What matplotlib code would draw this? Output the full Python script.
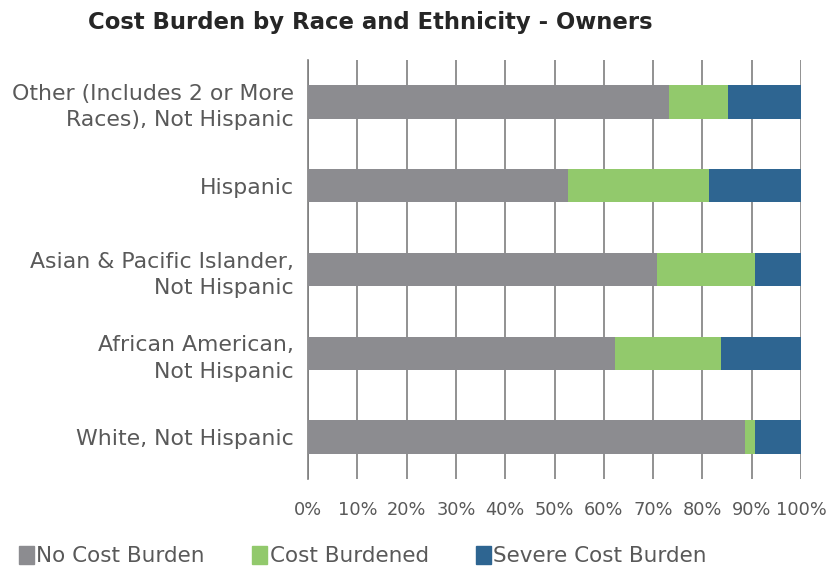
import numpy as np
import matplotlib.pyplot as plt
from matplotlib.patches import Patch

# Data (percent of owner households)
categories = [
    "White, Not Hispanic",
    "African American,\nNot Hispanic",
    "Asian & Pacific Islander,\nNot Hispanic",
    "Hispanic",
    "Other (Includes 2 or More\nRaces), Not Hispanic",
]
no_burden = [88.6, 62.3, 70.8, 52.7, 73.2]
cost_burdened = [2.1, 21.5, 19.9, 28.6, 12.0]
severe_burden = [9.3, 16.2, 9.3, 18.7, 14.8]
series_names = ["No Cost Burden", "Cost Burdened", "Severe Cost Burden"]
colors = ["#8C8C90", "#92C96C", "#2E6591"]
text_color = "#595959"

plt.rcParams['font.family'] = ['DejaVu Sans']

fig = plt.figure(figsize=(8.32, 5.69), dpi=100)
ax = fig.add_axes([308 / 832, 1 - 479 / 569, 493 / 832, 419 / 569])

y = np.arange(len(categories))
left = np.zeros(len(categories))
for vals, name, c in zip([no_burden, cost_burdened, severe_burden], series_names, colors):
    ax.barh(y, vals, left=left, height=0.4, color=c, label=name, zorder=3)
    left += np.array(vals)

ax.set_xlim(0, 100)
ax.set_ylim(-0.5, len(categories) - 0.5)
ax.set_yticks(y)
ax.set_yticklabels(categories, fontsize=15.8, color=text_color, linespacing=1.4)
ax.set_xticks(np.arange(0, 101, 10))
ax.set_xticklabels([f"{v}%" for v in range(0, 101, 10)], fontsize=12.8, color=text_color)
ax.tick_params(axis='y', length=0, pad=10)
ax.tick_params(axis='x', length=0, pad=16)
ax.grid(axis='x', color='#7F7F7F', linewidth=1.2, zorder=0)
for side in ['top', 'right', 'bottom']:
    ax.spines[side].set_visible(False)
ax.spines['left'].set_color('#7F7F7F')
ax.spines['left'].set_linewidth(1.2)

fig.text(370 / 832, 1 - 22 / 569, "Cost Burden by Race and Ethnicity - Owners",
         ha='center', va='center', fontsize=16.4, fontweight='bold', color='#262626')

handles = [Patch(color=c, label=n) for c, n in zip(colors, series_names)]
fig.legend(handles=handles, loc='center', bbox_to_anchor=(363 / 832, 1 - 556 / 569),
           ncol=3, frameon=False, fontsize=15.5, handlelength=0.7, handleheight=0.9,
           handletextpad=0.1, columnspacing=2.2, labelcolor=text_color)

fig.savefig("out.png", dpi=100)
